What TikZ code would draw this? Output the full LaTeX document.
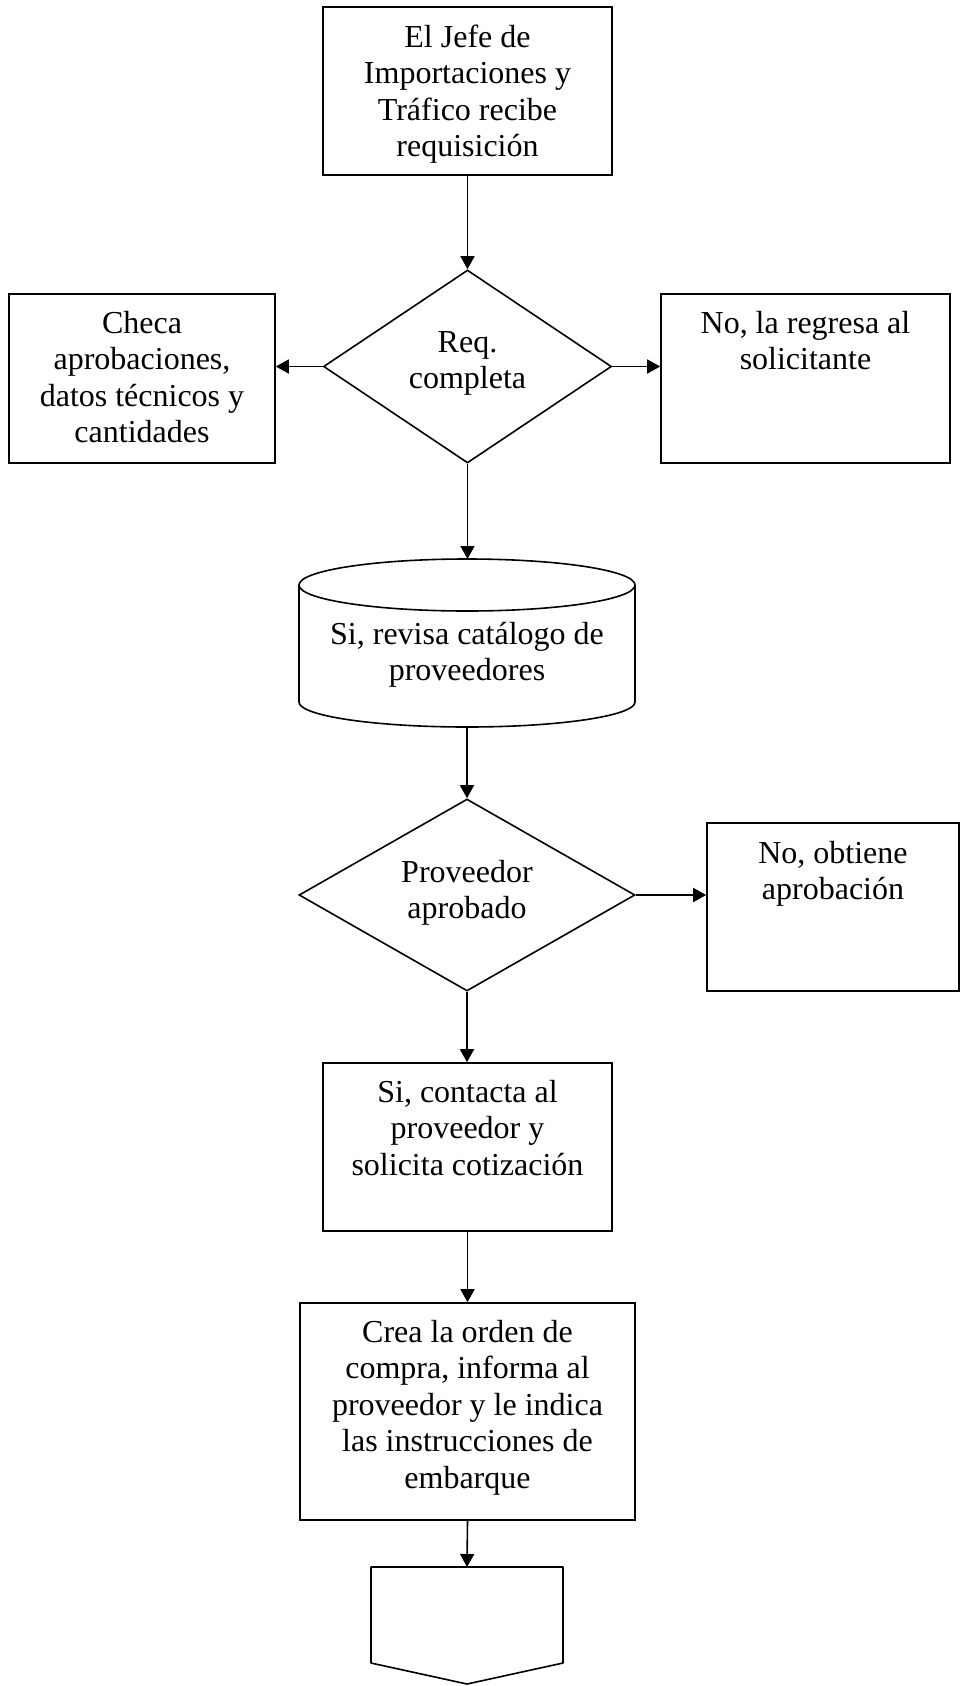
\documentclass[tikz,border=0pt]{standalone}
\usepackage{fontspec}
\setmainfont{Liberation Serif}
\usetikzlibrary{arrows.meta,shapes.geometric,calc}
\begin{document}
\begin{tikzpicture}[x=1pt,y=-1pt,
  shp/.style={draw, line width=1.6pt, inner sep=0pt},
  ghost/.style={inner sep=0pt, outer sep=0pt},
  txt/.style={font=\fontsize{32}{36.5}\selectfont, align=flush center, inner sep=0pt, anchor=base},
  arr/.style={line width=1.6pt, -{Triangle[length=13pt,width=14pt]}}]
\useasboundingbox (0,0) rectangle (960,1686);
\fill[white] (0,0) rectangle (960,1686);

% shapes
\node[shp, minimum width=289pt, minimum height=168pt] (top) at (467.5,91) {};
\node[shp, diamond, minimum width=288pt, minimum height=193pt] (d1) at (467.5,366.5) {};
\node[shp, minimum width=266pt, minimum height=169pt] (l1) at (142,378.5) {};
\node[shp, minimum width=289pt, minimum height=169pt] (r1) at (805.5,378.5) {};
\node[ghost, minimum width=336pt, minimum height=168pt] (cyl) at (467,643) {};
\node[shp, diamond, minimum width=336pt, minimum height=192pt] (d2) at (467,895) {};
\node[shp, minimum width=252pt, minimum height=168pt] (r2) at (833,907) {};
\node[shp, minimum width=289pt, minimum height=168pt] (b3) at (467.5,1147) {};
\node[shp, minimum width=335pt, minimum height=217pt] (b4) at (467.5,1411.5) {};
\node[ghost, minimum width=192pt, minimum height=117pt] (pent) at (467,1625.5) {};

% cylinder
\draw[line width=1.6pt] ($(cyl.north)+(0,26)$) ellipse [x radius=168pt, y radius=26pt];
\draw[line width=1.6pt] ($(cyl.north west)+(0,26)$) -- ($(cyl.south west)+(0,-25)$)
  arc[start angle=180, end angle=360, x radius=168pt, y radius=25pt]
  -- ($(cyl.north east)+(0,26)$);

% off-page connector
\draw[line width=1.6pt, line join=round] (pent.north west) -- (pent.north east)
  -- ($(pent.north east)+(0,96)$) -- (pent.south) -- ($(pent.north west)+(0,96)$) -- cycle;

% texts
\node[txt, text width=280pt] (topt) at ($(top.north)+(0,41)$) {El Jefe de\\Importaciones y\\Tráfico recibe\\requisición};
\node[txt, text width=220pt] (d1t) at ($(d1.center)+(0,-14.5)$) {Req.\\completa};
\node[txt, text width=260pt] (l1t) at ($(l1.north)+(0,40)$) {Checa\\aprobaciones,\\datos técnicos y\\cantidades};
\node[txt, text width=280pt] (r1t) at ($(r1.north)+(0,40)$) {No, la regresa al\\solicitante};
\node[txt, text width=330pt] (cylt) at ($(cyl.north)+(0,85)$) {Si, revisa catálogo de\\proveedores};
\node[txt, text width=240pt] (d2t) at ($(d2.center)+(0,-13)$) {Proveedor\\aprobado};
\node[txt, text width=245pt] (r2t) at ($(r2.north)+(0,41)$) {No, obtiene\\aprobación};
\node[txt, text width=285pt] (b3t) at ($(b3.north)+(0,40)$) {Si, contacta al\\proveedor y\\solicita cotización};
\node[txt, text width=330pt] (b4t) at ($(b4.north)+(0,40)$) {Crea la orden de\\compra, informa al\\proveedor y le indica\\las instrucciones de\\embarque};

% connectors
\draw[arr] (top.south) -- (d1.north);
\draw[arr] (d1.west) -- (d1.west -| l1.east);
\draw[arr] (d1.east) -- (d1.east -| r1.west);
\draw[arr] (d1.south) -- (d1.south |- cyl.north);
\draw[arr] (cyl.south) -- (d2.north);
\draw[arr] (d2.east) -- (d2.east -| r2.west);
\draw[arr] (d2.south) -- (d2.south |- b3.north);
\draw[arr] (b3.south) -- (b4.north);
\draw[arr] (b4.south) -- (pent.north);
\end{tikzpicture}
\end{document}
